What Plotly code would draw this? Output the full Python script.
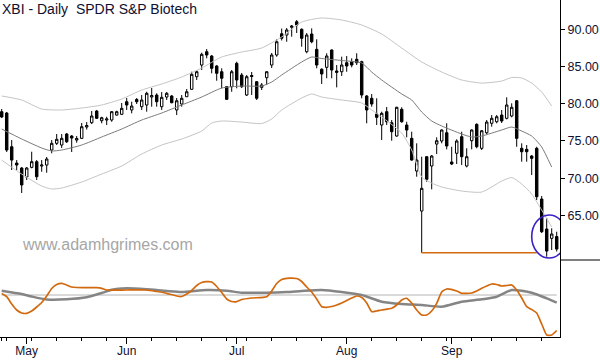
import plotly.graph_objects as go
import pandas as pd

# ---------------- data ----------------
holidays = ["2015-05-25", "2015-07-03", "2015-09-07"]
dates = [d for d in pd.bdate_range("2015-04-24", "2015-10-01")
         if d.strftime("%Y-%m-%d") not in holidays]

opens = [78.93, 78.75, 74.22, 72.03, 71.36, 70.15, 71.45, 72.21, 71.63, 71.76,
         73.78, 74.68, 74.45, 75.93, 75.66, 75.12, 75.35, 76.87, 77.45, 79.02,
         77.72, 77.81, 77.81, 78.48, 78.58, 80.27, 79.16, 80.57, 79.60, 79.83,
         80.90, 81.17, 79.60, 80.90, 81.04, 79.16, 79.96, 80.94, 81.94, 83.63,
         85.20, 86.99, 86.41, 85.07, 84.30, 82.29, 82.29, 85.43, 83.86, 81.17,
         83.79, 82.96, 82.20, 83.50, 85.20, 86.55, 89.40, 89.23, 90.27, 91.02,
         90.00, 86.99, 89.37, 87.31, 84.63, 84.89, 87.22, 84.40, 84.30, 85.51,
         85.65, 85.97, 85.65, 81.04, 80.73, 78.62, 77.14, 78.93, 77.45, 75.66,
         79.25, 77.14, 75.35, 70.96, 65.58, 72.88, 71.63, 74.58, 74.99, 76.10,
         72.17, 73.34, 75.57, 71.63, 75.03, 77.23, 74.01, 76.10, 77.37, 77.58,
         78.48, 78.04, 78.35, 80.40, 74.01, 73.87, 72.97, 74.01, 67.19, 63.16,
         61.91, 62.15]
highs = [79.29, 78.89, 75.12, 72.43, 71.49, 71.49, 73.55, 72.43, 72.43, 72.84,
         75.12, 75.93, 75.93, 76.06, 75.80, 75.66, 77.41, 77.54, 79.02, 79.16,
         78.25, 78.25, 79.02, 79.06, 80.10, 80.77, 80.27, 80.77, 81.17, 81.61,
         82.11, 81.40, 81.57, 81.57, 81.17, 80.77, 81.17, 81.98, 84.30, 84.53,
         86.86, 87.35, 86.55, 85.20, 84.76, 82.38, 84.53, 85.65, 84.13, 83.86,
         84.26, 83.05, 82.78, 84.35, 86.82, 88.66, 90.10, 90.17, 90.58, 91.25,
         90.13, 89.50, 90.13, 88.66, 84.76, 86.78, 87.30, 85.20, 86.32, 86.41,
         86.10, 86.78, 85.78, 81.17, 81.30, 80.73, 78.93, 79.56, 77.81, 79.60,
         79.52, 77.58, 76.24, 74.68, 72.88, 72.97, 73.11, 75.49, 76.56, 77.37,
         74.22, 75.22, 76.24, 74.01, 76.56, 77.37, 76.47, 77.81, 78.48, 78.48,
         79.16, 80.86, 80.06, 80.50, 74.68, 74.45, 73.11, 74.22, 67.60, 64.64,
         63.26, 62.80]
lows = [78.08, 73.51, 71.09, 71.09, 68.00, 69.75, 71.32, 69.75, 70.86, 70.73,
        73.34, 74.45, 74.05, 74.72, 73.51, 74.76, 75.26, 76.53, 77.27, 77.95,
        77.37, 77.14, 77.58, 78.39, 78.48, 79.16, 78.71, 79.96, 79.16, 78.93,
        79.60, 79.60, 79.16, 80.50, 80.06, 78.48, 79.60, 80.90, 81.84, 83.19,
        84.53, 86.10, 84.09, 83.09, 82.07, 80.50, 81.61, 82.07, 82.11, 81.04,
        81.17, 80.50, 81.84, 82.52, 84.80, 86.32, 88.50, 88.33, 89.01, 89.50,
        87.66, 86.78, 88.12, 84.76, 82.65, 83.42, 83.42, 82.20, 83.73, 84.30,
        84.89, 85.20, 80.73, 77.37, 79.60, 77.14, 75.12, 77.14, 75.03, 75.57,
        77.45, 75.49, 72.34, 70.19, 59.98, 69.52, 68.50, 73.24, 74.68, 73.87,
        71.76, 71.90, 71.76, 71.45, 73.87, 74.01, 73.78, 75.93, 76.91, 77.37,
        77.41, 77.90, 78.17, 74.22, 72.21, 72.21, 70.42, 67.06, 62.62, 59.44,
        60.34, 60.14]
closes = [78.22, 73.78, 72.43, 71.76, 69.08, 71.36, 72.21, 70.19, 71.76, 72.57,
          74.68, 75.22, 75.35, 74.89, 75.39, 75.33, 76.91, 77.07, 78.35, 78.04,
          78.12, 77.95, 78.93, 78.93, 79.38, 79.83, 79.69, 80.27, 80.50, 81.40,
          81.10, 80.27, 80.86, 81.40, 80.14, 80.40, 80.73, 81.61, 83.95, 84.30,
          86.64, 86.55, 84.76, 84.09, 83.42, 80.59, 84.30, 83.19, 82.29, 83.63,
          83.66, 80.73, 82.52, 84.30, 86.55, 88.33, 88.80, 89.91, 90.44, 90.58,
          88.79, 89.23, 88.33, 85.20, 84.00, 86.41, 84.53, 84.22, 85.20, 85.07,
          85.20, 85.51, 81.17, 79.16, 79.96, 78.17, 78.71, 77.58, 76.24, 79.52,
          77.58, 76.47, 72.43, 72.43, 68.63, 69.84, 72.97, 75.03, 76.47, 74.32,
          71.90, 74.99, 72.88, 72.88, 76.47, 74.22, 76.37, 77.54, 78.04, 78.25,
          77.68, 79.83, 79.52, 75.35, 73.55, 73.55, 72.66, 67.50, 62.80, 60.20,
          62.49, 60.47]

# Keltner channel readings (index of trading day -> price)
upper_idx = [0, 4, 8, 12, 16, 20, 24, 28, 32, 36, 40, 44, 48, 52, 56, 60, 64, 68,
             72, 76, 80, 84, 88, 92, 96, 100, 102, 104, 106, 108, 110]
upper_val = [81.04, 80.50, 79.29, 79.16, 79.42, 79.83, 80.63, 81.84, 82.65, 83.59,
             84.80, 86.28, 86.95, 87.49, 88.97, 90.98, 91.52, 91.25, 90.58, 89.37,
             87.49, 85.61, 84.26, 83.19, 82.78, 83.05, 83.52, 83.46, 82.78, 81.57,
             79.69]
mid_idx = [0, 4, 8, 10, 12, 16, 20, 24, 28, 32, 36, 40, 44, 48, 52, 54, 56, 60, 62,
           64, 68, 72, 74, 76, 80, 82, 84, 86, 88, 92, 94, 96, 100, 102, 104, 106,
           108, 110]
mid_val = [76.60, 75.26, 74.05, 73.65, 73.78, 74.45, 75.53, 76.60, 77.81, 78.75,
           79.83, 80.90, 82.11, 82.38, 82.38, 82.92, 83.86, 85.61, 86.28, 86.08,
           85.81, 85.47, 84.26, 83.19, 81.31, 80.50, 78.89, 77.68, 77.01, 75.93,
           75.53, 75.66, 76.47, 76.87, 76.33, 75.66, 74.18, 71.49]
lower_idx = [0, 4, 8, 10, 12, 16, 20, 24, 28, 32, 36, 40, 42, 44, 48, 52, 54, 56,
             60, 62, 64, 68, 72, 74, 76, 80, 82, 84, 86, 88, 92, 96, 100, 102, 104,
             106, 108, 110]
lower_val = [72.43, 70.55, 68.94, 68.54, 68.67, 69.48, 70.55, 71.63, 73.24, 74.45,
             75.26, 76.33, 77.41, 77.68, 77.54, 77.34, 77.95, 79.16, 80.77, 81.31,
             80.90, 80.50, 80.10, 79.16, 78.22, 76.06, 73.78, 70.15, 69.34, 68.81,
             68.27, 68.13, 69.61, 70.08, 69.21, 67.87, 65.71, 63.43]

# lower-panel oscillators
osc_orange_idx = [0, 1, 2, 3, 4, 5, 6, 7, 8, 9, 10, 11, 12, 13, 14, 15, 17, 19, 20,
                  21, 25, 29, 31, 33, 35, 36, 37, 38, 39, 40, 41, 42, 43, 44, 45,
                  46, 47, 48, 50, 53, 54, 55, 56, 57, 59, 60, 61, 62, 63, 64, 65,
                  66, 67, 68, 70, 71, 72, 73, 74, 75, 76, 78, 79, 80, 81, 82, 83,
                  84, 85, 86, 87, 88, 89, 91, 92, 94, 95, 96, 97, 98, 99, 100, 101,
                  102, 103, 104, 105, 106, 107, 108, 109, 110, 111]
osc_orange = [0.15, -0.17, -0.9, -1.5, -1.8, -1.83, -1.6, -1.2, -0.75, -0.1, 0.65,
              1.05, 1.17, 1.0, 0.8, 0.75, 0.73, 0.73, 0.67, 0.5, 0.5, 0.5, 0.35,
              0.17, -0.1, -0.15, 0.1, 0.45, 0.95, 1.25, 1.33, 1.3, 0.85, 0.25, -0.4,
              -0.65, -0.67, -0.45, -0.3, -0.17, 0.4, 1.15, 1.55, 1.67, 1.65, 1.35,
              0.8, 0.3, -0.4, -1.17, -1.23, -1.15, -1.0, -0.8, -0.3, -0.1, -0.25,
              -0.8, -1.67, -1.6, -1.5, -1.33, -1.0, -0.5, -0.33, -0.8, -1.5, -2.0,
              -2.0, -1.6, -0.83, 0.3, 0.6, 0.4, 0.17, 0.2, 0.4, 0.67, 0.9, 1.1,
              1.05, 0.9, 0.95, 1.0, 0.5, -0.3, -1.17, -1.45, -1.8, -2.9, -4.0,
              -4.0, -3.55]
osc_gray_idx = [0, 4, 6, 9, 13, 17, 20, 22, 25, 29, 33, 36, 41, 45, 48, 53, 57, 60,
                64, 68, 72, 76, 80, 84, 88, 92, 96, 99, 102, 106, 109, 111]
osc_gray = [0.43, 0.1, -0.15, -0.45, -0.43, -0.23, 0.2, 0.53, 0.67, 0.57, 0.4, 0.3,
            0.5, 0.43, 0.23, 0.23, 0.3, 0.4, 0.5, 0.3, 0.0, -0.67, -0.9, -1.0,
            -1.17, -0.67, -0.43, -0.17, 0.5, 0.23, -0.33, -0.77]

month_names = ["May", "Jun", "Jul", "Aug", "Sep"]
price_ticks = [65, 70, 75, 80, 85, 90]
retest_from = "2015-08-24"
retest_to = "2015-09-25"

# ---------------- derived positions ----------------
x = list(range(len(dates)))
month_idx = []
for i, d in enumerate(dates):
    if i > 0 and d.month != dates[i - 1].month:
        month_idx.append(i)
month_idx = month_idx[:len(month_names)]
week_idx = []
for i, d in enumerate(dates):
    if i == 0 or d.isocalendar()[1] != dates[i - 1].isocalendar()[1]:
        week_idx.append(i)
date_str = [d.strftime("%Y-%m-%d") for d in dates]
i_from = date_str.index(retest_from)
i_to = date_str.index(retest_to)

INK = "#101030"
FONT = "Liberation Sans"
fig = go.Figure()

# bands
for idx, val, col in [(upper_idx, upper_val, "#c4c4c4"),
                      (lower_idx, lower_val, "#c4c4c4"),
                      (mid_idx, mid_val, "#7a7a7a")]:
    fig.add_trace(go.Scatter(x=idx, y=val, mode="lines", xaxis="x", yaxis="y",
                             line=dict(color=col, width=1, shape="spline", smoothing=0.6),
                             hoverinfo="skip"))

fig.add_trace(go.Candlestick(
    x=x, open=opens, high=highs, low=lows, close=closes, xaxis="x", yaxis="y",
    increasing=dict(line=dict(color="black", width=1), fillcolor="white"),
    decreasing=dict(line=dict(color="black", width=1), fillcolor="black"),
    whiskerwidth=0))

fig.add_trace(go.Scatter(x=[i_from, i_to], y=[lows[i_from]] * 2, mode="lines",
                         xaxis="x", yaxis="y",
                         line=dict(color="#d2690e", width=1.5), hoverinfo="skip"))

# lower panel
fig.add_trace(go.Scatter(x=[0, x[-1]], y=[0, 0], mode="lines", xaxis="x", yaxis="y2",
                         line=dict(color="#b4b4b4", width=1), hoverinfo="skip"))
fig.add_trace(go.Scatter(x=osc_gray_idx, y=osc_gray, mode="lines", xaxis="x", yaxis="y2",
                         line=dict(color="#858585", width=2.5, shape="spline", smoothing=0.6),
                         hoverinfo="skip"))
fig.add_trace(go.Scatter(x=osc_orange_idx, y=osc_orange, mode="lines", xaxis="x", yaxis="y2",
                         line=dict(color="#d2690e", width=1.7, shape="spline", smoothing=0.5),
                         hoverinfo="skip"))

split = 77 / 337.0
fig.update_layout(
    width=600, height=360, margin=dict(l=0, r=40, t=0, b=23, autoexpand=False),
    plot_bgcolor="white", paper_bgcolor="white", showlegend=False,
    font=dict(family=FONT, color=INK, size=12),
    xaxis=dict(range=[-0.34, 111.66], anchor="y2", showline=True, linecolor="black",
               linewidth=1, ticks="outside", ticklen=6, tickcolor="black",
               tickvals=month_idx, ticktext=month_names, showgrid=False, zeroline=False,
               rangeslider=dict(visible=False), tickfont=dict(family=FONT, size=12, color=INK),
               automargin=False, ticklabelstandoff=-3,
               minor=dict(tickvals=week_idx, ticks="outside", ticklen=3,
                          tickcolor="black", showgrid=False)),
    yaxis=dict(domain=[split, 1], range=[59.0, 93.94], side="right", anchor="x",
               showline=True, linecolor="black", linewidth=1, ticks="outside",
               ticklen=4, tickcolor="black", tickvals=price_ticks,
               ticktext=["%.2f" % v for v in price_ticks],
               showgrid=False, zeroline=False, automargin=False,
               tickfont=dict(family=FONT, size=12.5, color=INK)),
    yaxis2=dict(domain=[0, split], range=[-4.2, 3.5], side="right", anchor="x",
                showline=True, linecolor="black", linewidth=1, showticklabels=False,
                ticks="", showgrid=False, zeroline=False, automargin=False),
    shapes=[
        dict(type="line", xref="paper", yref="paper", x0=1, x1=1 + 40 / 560.0,
             y0=split, y1=split, line=dict(color="black", width=1)),
        dict(type="circle", xref="x", yref="y", x0=x[-1] - 5, x1=x[-1] + 2,
             y0=59.26, y1=65.04, line=dict(color="#3a22c8", width=1.6)),
    ],
    annotations=[
        dict(text="XBI - Daily\u00a0 SPDR S&amp;P Biotech", xref="paper", yref="paper",
             x=0, y=1, xanchor="left", yanchor="top", xshift=0, yshift=1, showarrow=False,
             font=dict(family=FONT, size=14, color=INK)),
        dict(text="www.adamhgrimes.com", xref="paper", yref="paper",
             x=20 / 560.0, y=(337 - 244) / 337.0, xanchor="left", yanchor="middle",
             showarrow=False, font=dict(family=FONT, size=16, color="#a6a6a6")),
    ],
)

fig.write_html("out.html", config={"displayModeBar": False},
               post_script="document.body.style.margin='0';document.body.style.overflow='hidden';")
